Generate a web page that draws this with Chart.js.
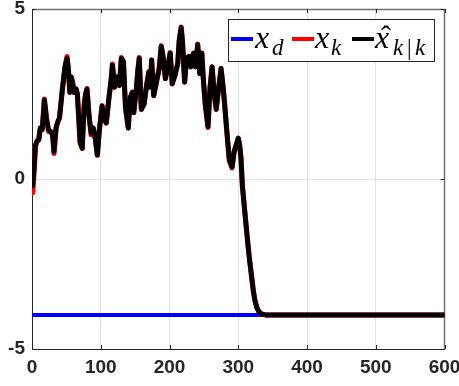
<!DOCTYPE html>
<html>
<head>
<meta charset="utf-8">
<script src="https://cdn.jsdelivr.net/npm/chart.js@4.4.1/dist/chart.umd.min.js"></script>
<style>
  html, body { margin: 0; padding: 0; background: #ffffff; }
  #wrap { width: 459px; height: 386px; position: relative; }
</style>
</head>
<body>
<div id="wrap"><canvas id="c" width="459" height="386"></canvas></div>
<script>
// ---- data ----
const steps = [0,1,3,5,7,10,12,15,18,21,24,27,30,32,35,37,40,44,48,51,53,55,57,59,61,64,66,70,73,76,78,80,83,86,89,92,95,98,102,105,108,112,115,117,120,122,124,127,130,133,136,140,143,146,148,152,154,156,159,163,167,170,172,174,177,181,185,188,191,194,198,201,204,208,212,214,217,219,222,225,228,231,233,235,238,241,244,247,249,252,256,259,262,265,268,271,275,278,280,283,287,291,294,297,300,302,304,306,309,313,316,319,322,324,327,330,334,340,600];
const estimate = [0.45,-0.2,0.3,1.0,1.1,1.15,1.5,1.45,2.33,1.8,1.45,1.4,1.3,0.8,1.5,1.65,1.8,2.6,3.3,3.55,3.2,2.55,3.0,2.85,2.55,2.65,2.5,1.1,0.9,2.2,2.5,2.64,1.85,1.35,1.5,1.2,0.7,1.45,2.15,1.75,1.65,2.4,2.9,3.35,2.7,2.85,3.0,2.75,3.55,3.45,2.1,1.5,2.4,2.55,1.95,2.7,3.2,3.55,2.05,2.2,2.8,3.15,2.7,3.5,2.45,2.85,3.25,3.9,3.55,2.95,3.35,3.7,2.8,3.05,3.4,4.05,4.45,4.0,2.85,3.55,3.6,3.3,3.6,3.7,3.3,3.95,3.1,3.7,3.0,2.2,1.54,2.7,3.3,2.5,2.05,2.6,3.25,2.7,2.25,1.5,0.55,0.35,0.8,1.0,1.2,1.0,0.6,-0.2,-0.85,-1.7,-2.3,-2.8,-3.3,-3.55,-3.78,-3.9,-3.97,-4.0,-4.0];
const trueState = [0.3,-0.4,0.2,0.95,1.1,1.2,1.5,1.5,2.35,1.8,1.4,1.4,1.3,0.75,1.5,1.65,1.8,2.6,3.3,3.6,3.2,2.55,3.0,2.85,2.55,2.65,2.5,1.05,0.9,2.2,2.5,2.66,1.85,1.3,1.5,1.2,0.7,1.45,2.15,1.75,1.65,2.4,2.9,3.38,2.7,2.85,3.0,2.75,3.57,3.45,2.1,1.5,2.4,2.55,1.95,2.7,3.2,3.57,2.05,2.2,2.8,3.15,2.7,3.5,2.45,2.85,3.25,3.92,3.55,2.95,3.35,3.72,2.8,3.05,3.4,4.05,4.47,4.0,2.85,3.55,3.6,3.3,3.6,3.7,3.3,3.97,3.1,3.7,3.0,2.2,1.52,2.7,3.3,2.5,2.05,2.6,3.25,2.7,2.25,1.5,0.55,0.33,0.8,1.0,1.2,1.0,0.6,-0.2,-0.85,-1.7,-2.3,-2.8,-3.3,-3.55,-3.78,-3.9,-3.97,-4.0,-4.0];
const desiredSteps = [0, 600];
const desired = [-4, -4];
const xTicks = [0,100,200,300,400,500,600];
const yTicks = [-5,0,5];
const legendLabels = ['x_d','x_k','x̂_k|k'];

const toPts = (xs, ys) => xs.map((x, i) => ({x: x, y: ys[i]}));

const AX = '#262626';
const tickFont = {family: '"Liberation Sans", Arial, sans-serif', size: 19, weight: 'bold'};

const framePlugin = {
  id: 'frame',
  beforeDatasetsDraw(chart) {
    const {ctx, chartArea: a, scales} = chart;
    ctx.save();
    ctx.strokeStyle = '#707070';
    ctx.lineWidth = 1.5;
    ctx.beginPath();
    ctx.moveTo(a.left, a.top + 0.5); ctx.lineTo(a.right, a.top + 0.5);
    ctx.moveTo(a.right, a.top); ctx.lineTo(a.right, a.bottom);
    ctx.stroke();
    ctx.strokeStyle = AX;
    ctx.lineWidth = 1;
    ctx.beginPath();
    xTicks.forEach(v => {
      const px = Math.round(scales.x.getPixelForValue(v)) + 0.5;
      ctx.moveTo(px, a.bottom); ctx.lineTo(px, a.bottom - 4);
      ctx.moveTo(px, a.top); ctx.lineTo(px, a.top + 4);
    });
    yTicks.forEach(v => {
      const py = Math.round(scales.y.getPixelForValue(v)) + 0.5;
      ctx.moveTo(a.left, py); ctx.lineTo(a.left + 4, py);
      ctx.moveTo(a.right, py); ctx.lineTo(a.right - 4, py);
    });
    ctx.stroke();
    // x tick labels, centred on their ticks (the last one runs off the canvas edge as in the reference)
    ctx.fillStyle = AX;
    ctx.font = 'bold 19px "Liberation Sans", Arial, sans-serif';
    ctx.textAlign = 'center';
    ctx.textBaseline = 'middle';
    xTicks.forEach(v => {
      ctx.fillText(String(v), scales.x.getPixelForValue(v), a.bottom + 19);
    });
    ctx.restore();
  }
};

const legendPlugin = {
  id: 'mathLegend',
  afterDraw(chart) {
    const ctx = chart.ctx;
    const ds = chart.data.datasets;
    ctx.save();
    ctx.fillStyle = '#ffffff';
    ctx.fillRect(228.5, 19.5, 206, 42);
    ctx.strokeStyle = '#262626';
    ctx.lineWidth = 1;
    ctx.strokeRect(228.5, 19.5, 206, 42);
    const ly = 39;
    const samples = [[231, 253, ds[2].borderColor], [292, 314, ds[1].borderColor], [352, 374, ds[0].borderColor]];
    samples.forEach(s => {
      ctx.strokeStyle = s[2]; ctx.lineWidth = 4;
      ctx.beginPath(); ctx.moveTo(s[0], ly); ctx.lineTo(s[1], ly); ctx.stroke();
    });
    ctx.fillStyle = '#000000';
    ctx.textBaseline = 'alphabetic';
    ctx.textAlign = 'left';
    const main = 'italic 32px "Liberation Serif", "DejaVu Serif", serif';
    const sub = 'italic 23px "Liberation Serif", "DejaVu Serif", serif';
    ctx.font = main;
    ctx.fillText('x', 255, 48);
    ctx.fillText('x', 315, 48);
    ctx.fillText('x', 375, 48);
    ctx.font = '30px "Liberation Serif", serif';
    ctx.textAlign = 'center';
    ctx.fillText('ˆ', 386, 46);
    ctx.textAlign = 'left';
    ctx.font = sub;
    ctx.fillText('d', 272, 55);
    ctx.fillText('k', 331, 55);
    ctx.fillText('k', 393, 55);
    ctx.font = '23px "Liberation Serif", serif';
    ctx.fillText('|', 407, 55);
    ctx.font = sub;
    ctx.fillText('k', 415, 55);
    ctx.restore();
  }
};

new Chart(document.getElementById('c'), {
  type: 'line',
  data: {
    datasets: [
      { label: legendLabels[2], data: toPts(steps, estimate), borderColor: '#000000', borderWidth: 4.8, order: 0 },
      { label: legendLabels[1], data: toPts(steps, trueState), borderColor: '#ff0000', borderWidth: 5.2, order: 1 },
      { label: legendLabels[0], data: toPts(desiredSteps, desired), borderColor: '#0000ff', borderWidth: 4, order: 2 }
    ]
  },
  options: {
    responsive: false,
    animation: false,
    parsing: false,
    elements: { point: { radius: 0 }, line: { tension: 0, borderJoinStyle: 'round', borderCapStyle: 'round' } },
    layout: { padding: { left: 0, top: 9, right: 14.5, bottom: 0 } },
    plugins: { legend: { display: false }, tooltip: { enabled: false } },
    scales: {
      x: {
        type: 'linear', min: 0, max: 600,
        afterBuildTicks: s => { s.ticks = xTicks.map(v => ({value: v})); },
        afterFit: s => { s.height = 37; s.paddingLeft = 0; s.paddingRight = 0; },
        ticks: { display: false, font: tickFont, color: AX, padding: 6, maxRotation: 0, autoSkip: false },
        grid: { color: '#e3e3e3', drawTicks: false, lineWidth: 1 },
        border: { display: true, color: AX, width: 1 }
      },
      y: {
        type: 'linear', min: -5, max: 5,
        afterBuildTicks: s => { s.ticks = yTicks.map(v => ({value: v})); },
        afterFit: s => { s.width = 32; s.paddingTop = 0; s.paddingBottom = 0; },
        ticks: { font: tickFont, color: AX, padding: 7 },
        grid: { color: '#e3e3e3', drawTicks: false, lineWidth: 1 },
        border: { display: true, color: AX, width: 1 }
      }
    }
  },
  plugins: [framePlugin, legendPlugin]
});
</script>
</body>
</html>
